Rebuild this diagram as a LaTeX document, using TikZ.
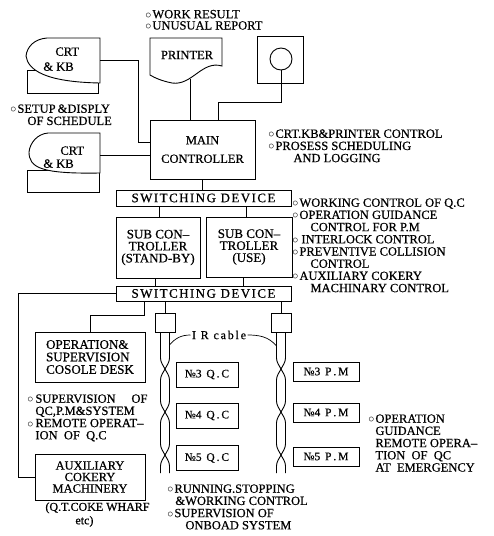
\documentclass[tikz,border=0pt]{standalone}
\usepackage{fontspec}
\setmainfont{Liberation Serif}[FakeBold=0.6]
\newfontfamily\spacedfont[LetterSpace=11,FakeBold=0.6]{Liberation Serif}
\newfontfamily\irfont[LetterSpace=15,FakeBold=0.6]{Liberation Serif}
\usetikzlibrary{calc}
\newcommand\bul{\makebox[7pt][l]{$\circ$}}
\newcommand\strand[2]{%
  \draw[rounded corners=3pt] (#1,332) -- (#1,361) -- (#2,377) -- (#2,404) -- (#1,420) -- (#1,447) -- (#2,463) -- (#2,473);}
\begin{document}
\begin{tikzpicture}[x=1pt,y=-1pt,line width=0.9pt,
  box/.style={draw,inner sep=0pt,align=center,font=\fontsize{12.5}{12.5}\selectfont},
  swbox/.style={draw,inner sep=0pt,minimum width=175pt,font=\spacedfont\fontsize{13}{13}\selectfont},
  qcbox/.style={draw,inner sep=0pt,minimum width=62pt,minimum height=25pt,font=\fontsize{11.5}{11.5}\selectfont},
  pmbox/.style={draw,inner sep=0pt,minimum width=66pt,minimum height=19pt,font=\fontsize{11.5}{11.5}\selectfont},
  cabbox/.style={draw,inner sep=0pt,minimum width=20pt,minimum height=19pt},
  txt/.style={inner sep=0pt,anchor=north west,align=left,font=\fontsize{12.5}{12.2}\selectfont}]
\useasboundingbox (0,0) rectangle (494,536);

% CRT 1
\draw (27,70) rectangle (98,93);
\draw[fill=white] (100,38) -- (47,38) .. controls (34,39) and (27,47) .. (26,56) .. controls (28,70) and (45,82) .. (100,83) -- cycle;
\node[txt,font=\fontsize{12.5}{15}\selectfont] (crt1) at (43,47) {\hspace*{12pt}CRT\\\& KB};
% CRT 2
\draw (27,170) rectangle (99,192);
\draw[fill=white] (100,133) -- (48,133) .. controls (37,134) and (30,143) .. (29,152) .. controls (29,168) and (42,174) .. (100,173) -- cycle;
\node[txt,font=\fontsize{12.5}{13}\selectfont] (crt2) at (43,146) {\hspace*{17pt}CRT\\\& KB};
% printer
\draw (150,38) -- (222,38) -- (222,66) .. controls (202,60) and (192,86) .. (172,83) .. controls (162,81) and (155,78) .. (150,75) -- cycle;
\node[font=\fontsize{12.5}{12.5}\selectfont] (printer) at (187,55) {PRINTER};
% terminal
\node[draw,inner sep=0pt,minimum width=46pt,minimum height=47pt] (term) at (280,59.5) {};
\node[draw,circle,inner sep=0pt,minimum size=22pt] (scr) at (281,59) {};

% main
\node[box,minimum width=105pt,minimum height=59pt] (main) at (202.5,149.5) {MAIN\\[6pt]CONTROLLER};
\node[swbox,minimum height=16pt] (sw1) at (203.5,198) {SWITCHING DEVICE};
\node[box,minimum width=84pt,minimum height=61pt,font=\fontsize{13}{12}\selectfont] (sbs) at (158,247.5) {SUB CON--\\TROLLER\\(STAND-BY)};
\node[box,minimum width=86pt,minimum height=60pt,font=\fontsize{13}{12}\selectfont] (suse) at (249,247) {SUB CON--\\TROLLER\\(USE)};
\node[swbox,minimum height=15pt] (sw2) at (203.5,293.5) {SWITCHING DEVICE};

\node[box,minimum width=110pt,minimum height=50pt,align=left,font=\fontsize{13}{12.5}\selectfont] (desk) at (90,357) {OPERATION\&\\SUPERVISION\\COSOLE DESK};
\node[box,minimum width=110pt,minimum height=46pt,font=\fontsize{12.5}{11.5}\selectfont] (aux) at (90,477) {AUXILIARY\\COKERY\\MACHINERY};

\node[cabbox] (boxL) at (165,322.5) {};
\node[cabbox] (boxR) at (281,322.5) {};

\node[qcbox] (qc3) at (207,374.5) {№3\, Q\,.\,C};
\node[qcbox] (qc4) at (207,415.5) {№4\, Q\,.\,C};
\node[qcbox] (qc5) at (207,458) {№5\, Q\,.\,C};
\node[pmbox] (pm3) at (326,371.5) {№3\, P\,.\,M};
\node[pmbox] (pm4) at (326,412.5) {№4\, P\,.\,M};
\node[pmbox] (pm5) at (326,456.5) {№5\, P\,.\,M};

% cables
\strand{160.5}{169.5}
\strand{169.5}{160.5}
\strand{276.5}{285.5}
\strand{285.5}{276.5}
\node[inner sep=1pt,font=\irfont\fontsize{12}{12}\selectfont] (irc) at (219,335) {I R cable};
\draw[line width=0.7pt] (irc.west) to[out=180,in=50] (169.5,345);
\draw[line width=0.7pt] (irc.east) to[out=0,in=130] (276.5,346);

% connectors
\coordinate (c1) at (100,60);
\coordinate (c1b) at (138,142);
\draw (c1) -| (c1b) -- (c1b -| main.west);
\coordinate (c2) at (100,155);
\draw (c2) -- (c2 -| main.west);
\coordinate (pb) at (190,79);
\draw (pb) -- (pb |- main.north);
\coordinate (tj) at (218,102);
\draw (scr.south) |- (tj) -- (tj |- main.north);
\draw (main.south) -- (main.south |- sw1.north);
\draw ([xshift=1pt]sbs.north) -- ([xshift=1pt]sbs.north |- sw1.south);
\draw ([xshift=-3pt]suse.north) -- ([xshift=-3pt]suse.north |- sw1.south);
\draw ([xshift=-3pt]sbs.south) -- ([xshift=-3pt]sbs.south |- sw2.north);
\draw ([xshift=-6pt]suse.south) -- ([xshift=-6pt]suse.south |- sw2.north);
\draw (sw2.west) -| ($(aux.west)+(-16,0)$) -- (aux.west);
\draw ([xshift=-59.5pt]sw2.south) -- ++(0,14) -| (desk.north);
\draw (boxL.north) -- (boxL.north |- sw2.south);
\draw (boxR.north) -- (boxR.north |- sw2.south);

% texts
\node[txt,font=\fontsize{12.5}{11.3}\selectfont] (t1) at (145,9.5) {\bul WORK RESULT\\\bul UNUSUAL REPORT};
\node[txt] (t2) at (10,104) {\bul SETUP\,\&DISPLY\\\hspace*{17pt}OF SCHEDULE};
\node[txt] (t3) at (268,129) {\bul CRT.KB\&PRINTER CONTROL\\\bul PROSESS SCHEDULING\\\hspace*{25pt}AND LOGGING};
\node[txt] (t4) at (292,198) {\bul WORKING CONTROL OF Q.C\\\bul OPERATION GUIDANCE\\\hspace*{18pt}CONTROL FOR P.M\\\bul\,INTERLOCK CONTROL\\\bul PREVENTIVE COLLISION\\\hspace*{18pt}CONTROL\\\bul AUXILIARY COKERY\\\hspace*{18pt}MACHINARY CONTROL};
\node[txt] (t5) at (27,394) {\makebox[8pt][l]{$\circ$}\makebox[112pt][s]{SUPERVISION OF}\\\hspace*{8pt}QC,P.M\&SYSTEM\\\makebox[8pt][l]{$\circ$}REMOTE OPERAT--\\\hspace*{8pt}ION\ \ OF\ \ Q.C};
\node[txt,font=\fontsize{12}{13.5}\selectfont] (t6) at (45,502) {(Q.T.COKE WHARF\\\hspace*{30pt}etc)};
\node[txt] (t7) at (167,484) {\bul RUNNING.STOPPING\\\hspace*{8pt}\&WORKING CONTROL\\\bul SUPERVISION OF\\\hspace*{18pt}ONBOAD SYSTEM};
\node[txt] (t8) at (368,414) {\bul OPERATION\\\hspace*{7pt}GUIDANCE\\\hspace*{7pt}REMOTE OPERA--\\\hspace*{7pt}TION\ \ OF\ \ QC\\\hspace*{7pt}AT\ \ EMERGENCY};
\end{tikzpicture}
\end{document}
